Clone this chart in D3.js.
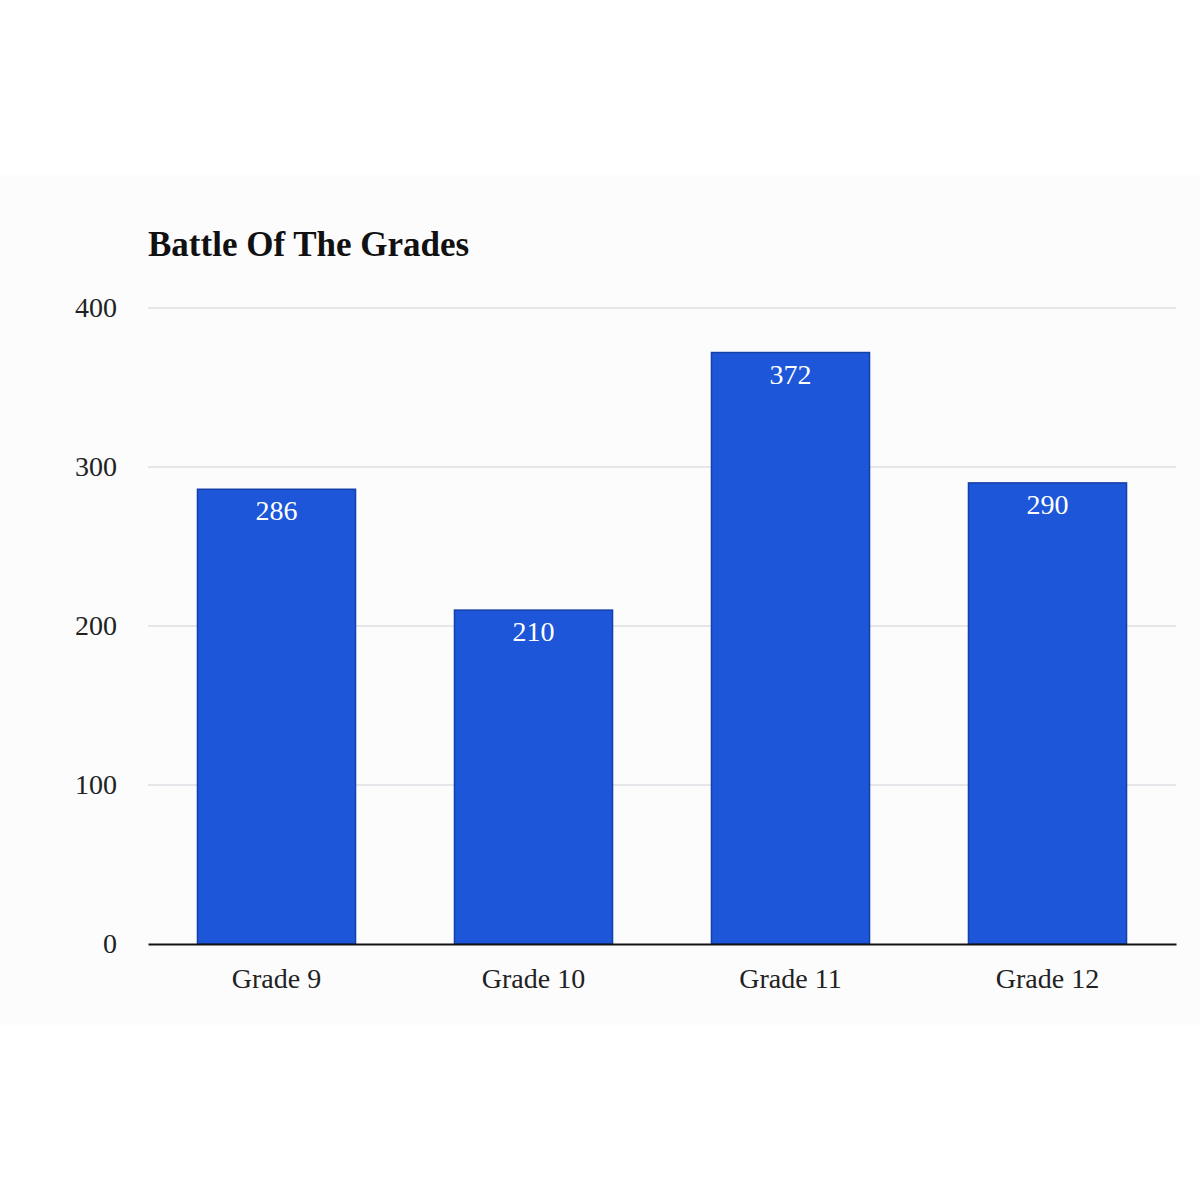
<!DOCTYPE html>
<html><head><meta charset="utf-8">
<script src="https://cdn.jsdelivr.net/npm/d3@7"></script>
<style>html,body{margin:0;padding:0;background:#fff;}</style>
</head><body>
<script>
const categories = ["Grade 9", "Grade 10", "Grade 11", "Grade 12"];
const values = [286, 210, 372, 290];
const yTicks = [0, 100, 200, 300, 400];
const title = "Battle Of The Grades";

(function () {
const W = 1200, H = 1200;
const svg = d3.select("body").append("svg").attr("width", W).attr("height", H);
svg.append("rect").attr("x",0).attr("y",0).attr("width",W).attr("height",H).attr("fill","#fff");
svg.append("rect").attr("x",0).attr("y",175).attr("width",W).attr("height",850).attr("fill","#fcfcfd");

const mLeft = 148, mRight = 1176, mTop = 308, mBottom = 944;
const x = d3.scaleBand().domain(categories).range([mLeft, mRight]).paddingInner(0.385).paddingOuter(0.1925);
const y = d3.scaleLinear().domain([0, 400]).range([mBottom, mTop]);
const font = "'Liberation Serif', 'Times New Roman', serif";

// gridlines
svg.append("g").selectAll("line").data(yTicks.filter(d => d > 0)).join("line")
  .attr("x1", mLeft).attr("x2", mRight)
  .attr("y1", d => y(d)).attr("y2", d => y(d))
  .attr("stroke", "#cfcfd8").attr("stroke-width", 1.2);

// y axis labels
const yAxis = d3.axisLeft(y).tickValues(yTicks).tickSize(0).tickPadding(31);
const gy = svg.append("g").attr("transform", `translate(${mLeft},0)`).call(yAxis);
gy.select(".domain").remove();
gy.selectAll("text").attr("font-family", font).attr("font-size", 28).attr("fill", "#222");

// bars
svg.append("g").selectAll("rect").data(values).join("rect")
  .attr("x", (d, i) => x(categories[i]))
  .attr("y", d => y(d))
  .attr("width", x.bandwidth())
  .attr("height", d => y(0) - y(d))
  .attr("fill", "#1d56d8")
  .attr("stroke", "#1440a8").attr("stroke-width", 1.5);

// value labels
svg.append("g").selectAll("text").data(values).join("text")
  .attr("x", (d, i) => x(categories[i]) + x.bandwidth() / 2)
  .attr("y", d => y(d) + 31)
  .attr("text-anchor", "middle")
  .attr("font-family", font).attr("font-size", 28)
  .attr("fill", "#fff")
  .text(d => d);

// x axis
const xAxis = d3.axisBottom(x).tickSize(0).tickPadding(24);
const gx = svg.append("g").attr("transform", `translate(0,${mBottom})`).call(xAxis);
gx.select(".domain").attr("stroke", "#111").attr("stroke-width", 2);
gx.selectAll("text").attr("font-family", font).attr("font-size", 28).attr("fill", "#222");

// title
svg.append("text").attr("x", mLeft).attr("y", 256)
  .attr("font-family", font).attr("font-size", 35).attr("font-weight", "bold")
  .attr("fill", "#111").text(title);
})();
</script>
</body></html>
